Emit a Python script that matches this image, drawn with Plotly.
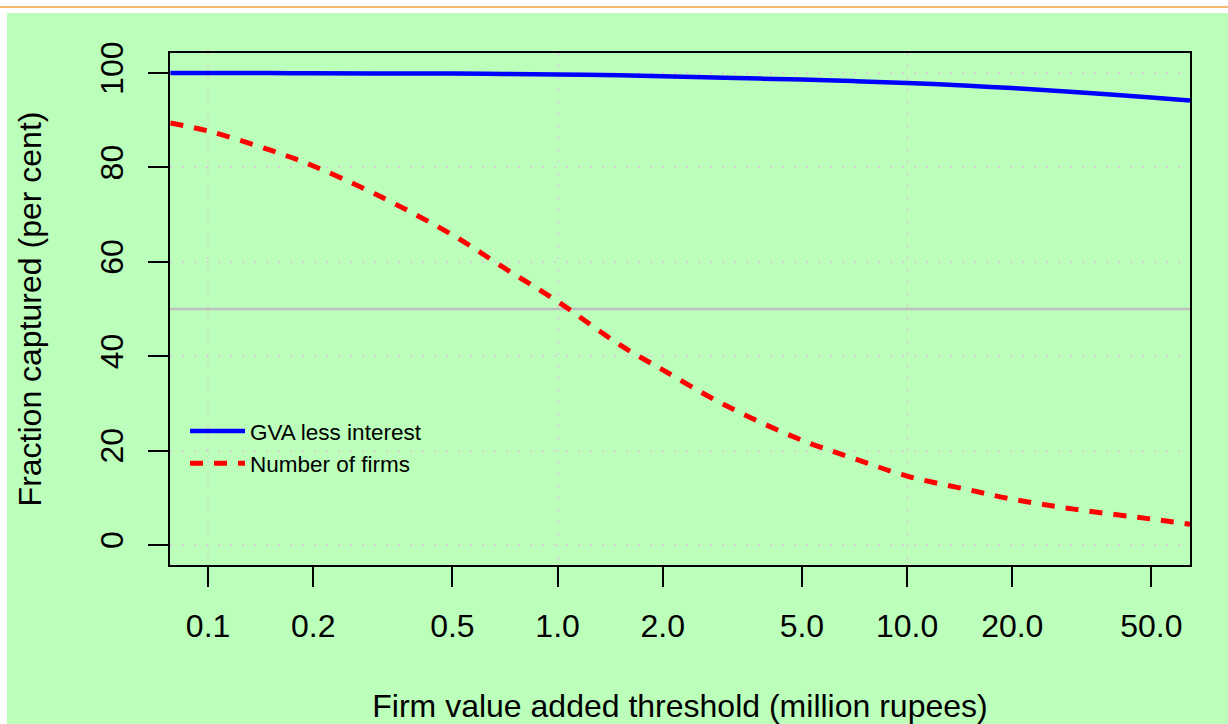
import math
import plotly.graph_objects as go

# ---- data ----
threshold = [0.078, 0.1, 0.15, 0.2, 0.3, 0.5, 0.7, 1.0, 1.5, 2.0, 3.0, 5.0, 7.0, 10, 15, 20, 30, 50, 64.5]
gva_less_interest = [100.0, 100.0, 99.98, 99.95, 99.92, 99.88, 99.8, 99.7, 99.5, 99.3, 99.0, 98.6, 98.3, 97.9, 97.3, 96.8, 96.0, 94.8, 94.2]
number_of_firms = [89.4, 87.7, 83.7, 80.3, 74.4, 65.7, 58.8, 51.6, 42.5, 37.1, 29.7, 22.2, 18.4, 14.6, 11.7, 9.7, 7.6, 5.5, 4.4]

x_ticks = [0.1, 0.2, 0.5, 1, 2, 5, 10, 20, 50]
x_tick_labels = ["0.1", "0.2", "0.5", "1.0", "2.0", "5.0", "10.0", "20.0", "50.0"]
x_grid = [0.1, 1, 10]
y_ticks = [0, 20, 40, 60, 80, 100]
reference_level = 50

X_RANGE = [math.log10(0.0778), math.log10(64.5)]
Y_RANGE = [-4.24, 104.24]

GREEN = "#BBFFBB"
FONT = "Liberation Sans, Arial, sans-serif"

fig = go.Figure()

fig.add_trace(go.Scatter(
    x=threshold, y=gva_less_interest, mode="lines", name="GVA less interest",
    line=dict(color="#0000FF", width=4.5, shape="spline"),
))
fig.add_trace(go.Scatter(
    x=threshold, y=number_of_firms, mode="lines", name="Number of firms",
    line=dict(color="#FF0000", width=5, dash="13px,11px", shape="spline"),
))

# overlay axis only for the decade grid lines
fig.add_trace(go.Scatter(x=[], y=[], xaxis="x2", showlegend=False, hoverinfo="skip"))

# page background: white strip with orange rule, green panel
fig.add_shape(type="rect", xref="paper", yref="paper",
              x0=(7 - 170) / 1020, x1=(1240 - 170) / 1020,
              y0=(565 - 740) / 512, y1=(565 - 13) / 512,
              fillcolor=GREEN, line=dict(width=0), layer="below")
fig.add_shape(type="line", xref="paper", yref="paper",
              x0=-0.2, x1=1.1, y0=(565 - 7) / 512, y1=(565 - 7) / 512,
              line=dict(color="#F0A040", width=1.5))

# grey horizontal reference line at 50
fig.add_shape(type="line", xref="paper", yref="y", x0=0, x1=1,
              y0=reference_level, y1=reference_level,
              line=dict(color="#BEBEBE", width=2.5), layer="between")

fig.update_layout(
    width=1228, height=724,
    margin=dict(l=170, r=38, t=53, b=159),
    paper_bgcolor="white",
    plot_bgcolor=GREEN,
    font=dict(family=FONT, color="black", size=32),
    showlegend=True,
    legend=dict(x=(185 - 170) / 1020, y=0.303, xanchor="left", yanchor="top",
                bgcolor="rgba(0,0,0,0)", borderwidth=0, itemwidth=55,
                font=dict(size=22.5, family=FONT)),
    xaxis=dict(
        type="log", range=X_RANGE, automargin=False,
        tickvals=x_ticks, ticktext=x_tick_labels,
        ticks="outside", ticklen=20, tickwidth=2, tickcolor="black",
        ticklabelstandoff=12,
        showgrid=False, zeroline=False,
        showline=True, mirror=True, linecolor="black", linewidth=2,
        title=dict(text="Firm value added threshold (million rupees)",
                   font=dict(size=32), standoff=54),
        tickfont=dict(size=32),
    ),
    xaxis2=dict(
        type="log", range=X_RANGE, overlaying="x", side="bottom", automargin=False,
        tickvals=x_grid, showticklabels=False, ticks="",
        showgrid=True, gridcolor="#D3D3D3", gridwidth=2, griddash="2px,10px",
        showline=False, zeroline=False,
    ),
    yaxis=dict(
        range=Y_RANGE, tickvals=y_ticks, automargin=False,
        ticks="outside", ticklen=20, tickwidth=2, tickcolor="black",
        tickangle=-90, ticklabelstandoff=12,
        showgrid=True, gridcolor="#D3D3D3", gridwidth=2, griddash="2px,10px",
        zeroline=False,
        showline=True, mirror=True, linecolor="black", linewidth=2,
        title=dict(text="Fraction captured (per cent)", font=dict(size=32), standoff=43),
        tickfont=dict(size=32),
    ),
)

fig.write_html("out.html")
